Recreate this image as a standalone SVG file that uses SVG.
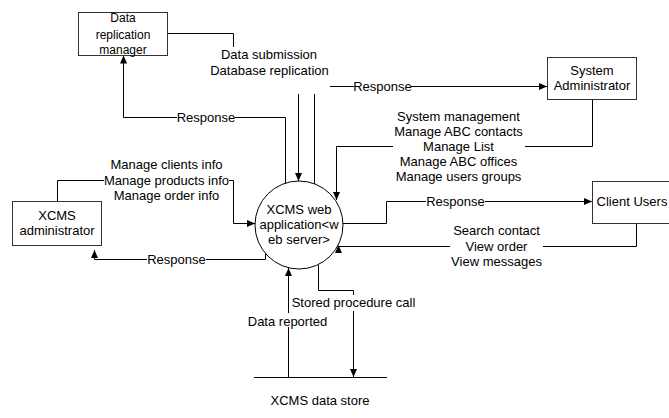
<svg xmlns="http://www.w3.org/2000/svg" width="669" height="418" viewBox="0 0 669 418">
<defs>
<marker id="arr" markerUnits="userSpaceOnUse" markerWidth="9" markerHeight="8" refX="8" refY="3.5" orient="auto">
<path d="M0,0 L8,3.5 L0,7 z" fill="#000"/>
</marker>
<style>
.box{fill:#fff;stroke:#333;stroke-width:1}
.ln{fill:none;stroke:#000;stroke-width:1}
.arr{fill:none;stroke:#000;stroke-width:1;marker-end:url(#arr)}
.bg{fill:#fff;stroke:none}
text{font-family:"Liberation Sans",Arial,sans-serif;font-size:13px;fill:#000;text-anchor:middle}
.small{font-size:12px}
</style>
</defs>
<rect width="669" height="418" fill="#fff"/>
<g id="connectors">
<path class="arr" d="M167,33.5 H233.5 V63.5 H298.5 V181"/>
<path class="arr" d="M285.5,184 V117.5 H123.5 V55.5"/>
<path class="arr" d="M314.5,184 V86.5 H547"/>
<path class="arr" d="M592.5,99 V146.5 H336.5 V200"/>
<path class="arr" d="M57.5,201.5 V180.5 H233.5 V223.5 H255"/>
<path class="arr" d="M265.5,254 V259.5 H94.5 V250"/>
<path class="arr" d="M343,223.5 H386.5 V201.5 H592"/>
<path class="ln" d="M636.5,224 V246.5 H339"/>
<polygon points="338.5,245 335,253 342,253" fill="#000"/>
<path class="arr" d="M318.5,265 V290.5 H353.5 V377"/>
<path class="arr" d="M288.5,377 V268"/>
<g id="labels">
<rect class="bg" x="210" y="47" width="120" height="47"/>
<text x="269" y="59">Data submission</text>
<text x="269.5" y="75">Database replication</text>
<rect class="bg" x="177" y="110" width="58" height="14"/>
<text x="206" y="121.5">Response</text>
<rect class="bg" x="354" y="79" width="57" height="14"/>
<text x="382.5" y="90.5">Response</text>
<rect class="bg" x="393" y="108" width="132" height="76"/>
<text x="458.5" y="120.5">System management</text>
<text x="458.5" y="135.5">Manage ABC contacts</text>
<text x="458.5" y="150.5">Manage List</text>
<text x="458.5" y="165.5">Manage ABC offices</text>
<text x="458.5" y="180.5">Manage users groups</text>
<rect class="bg" x="104" y="156" width="125" height="48"/>
<text x="166.5" y="168.5">Manage clients info</text>
<text x="166.5" y="184.5">Manage products info</text>
<text x="166.5" y="200">Manage order info</text>
<rect class="bg" x="147" y="252" width="59" height="14"/>
<text x="176.5" y="263.5">Response</text>
<rect class="bg" x="426" y="194" width="59" height="14"/>
<text x="455.5" y="206">Response</text>
<rect class="bg" x="450" y="222" width="93" height="46"/>
<text x="496.5" y="235">Search contact</text>
<text x="496.5" y="250.5">View order</text>
<text x="496.5" y="265.5">View messages</text>
<rect class="bg" x="291" y="295" width="125" height="16"/>
<text x="353.5" y="307">Stored procedure call</text>
<rect class="bg" x="247" y="313" width="82" height="14"/>
<text x="287.5" y="325.5">Data reported</text>
</g>
</g>
<g id="drm">
<rect class="box" x="78.5" y="12.5" width="89" height="43"/>
<text class="small" x="123" y="22">Data</text>
<text class="small" x="123" y="38.5">replication</text>
<text class="small" x="123" y="54">manager</text>
</g>
<g id="sysadmin">
<rect class="box" x="547.5" y="57.5" width="89" height="42"/>
<text x="592" y="74.5">System</text>
<text x="592" y="90">Administrator</text>
</g>
<g id="xcmsadmin">
<rect class="box" x="12.5" y="201.5" width="89" height="44"/>
<text x="57" y="219.5">XCMS</text>
<text x="57" y="235">administrator</text>
</g>
<g id="clientusers">
<rect class="box" x="592.5" y="181.5" width="89" height="42"/>
<text x="632" y="206">Client Users</text>
</g>
<g id="webapp">
<circle cx="299" cy="225" r="44" fill="#fff" stroke="#000" stroke-width="1"/>
<text x="299" y="213.5">XCMS web</text>
<text x="299" y="228.5">application&lt;w</text>
<text x="299" y="243.5">eb server&gt;</text>
</g>
<g id="datastore">
<path class="ln" d="M254,377.5 H387"/>
<text x="320" y="404.5">XCMS data store</text>
</g>
</svg>
